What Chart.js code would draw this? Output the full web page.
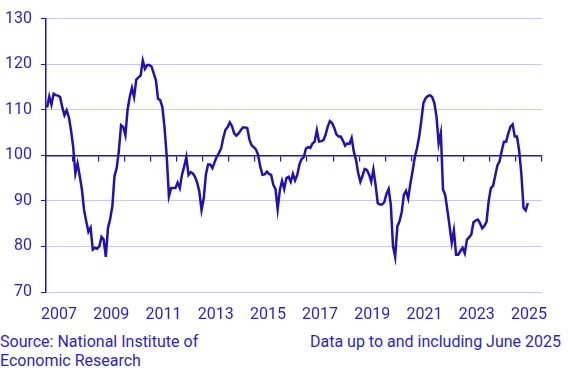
<!DOCTYPE html>
<html>
<head>
<meta charset="utf-8">
<script src="https://cdn.jsdelivr.net/npm/chart.js@4/dist/chart.umd.min.js"></script>
<style>
  html, body { margin: 0; padding: 0; background: #fff; }
  .wrap { position: relative; width: 568px; height: 374px; font-family: Roboto, sans-serif; color: #2d1fc6; }
  canvas { position: absolute; left: 0; top: 0; }
  .source { position: absolute; left: 0; top: 332px; font-size: 16px; line-height: 19px; }
  .note { position: absolute; right: 7px; top: 332px; font-size: 16px; line-height: 19px; }
</style>
</head>
<body>
<div class="wrap">
  <canvas id="chart" width="568" height="330"></canvas>
  <div class="source">Source: National Institute of<br>Economic Research</div>
  <div class="note">Data up to and including June 2025</div>
</div>
<script>
// monthly values, January onwards
const startYear = 2007;
const endYear = 2026;
const v2007 = [110.5, 112.9, 111.1, 113.5, 113.2, 113.1, 112.8, 110.5, 108.8, 109.9, 108.4, 105.5];
const v2008 = [101.8, 96.0, 98.2, 95.5, 92.5, 88.0, 85.5, 83.2, 84.1, 79.3, 79.7, 79.5];
const v2009 = [80.0, 82.1, 81.5, 77.7, 84.1, 86.0, 88.8, 95.5, 97.2, 101.0, 106.6, 106.2];
const v2010 = [104.4, 110.0, 112.8, 114.8, 112.8, 116.6, 117.1, 117.5, 120.8, 119.0, 119.8, 119.8];
const v2011 = [119.5, 118.0, 116.5, 112.4, 112.1, 110.6, 106.0, 99.7, 91.0, 92.8, 92.8, 92.8];
const v2012 = [94.0, 92.8, 95.7, 97.5, 99.6, 95.7, 96.3, 96.0, 95.3, 94.0, 92.0, 88.0];
const v2013 = [90.5, 95.8, 98.0, 98.0, 97.2, 98.5, 99.7, 100.5, 101.5, 103.8, 105.6, 106.2];
const v2014 = [107.2, 106.4, 104.8, 104.3, 104.8, 105.5, 106.1, 106.1, 106.0, 103.5, 102.2, 101.8];
const v2015 = [101.3, 100.1, 97.5, 95.7, 95.8, 96.4, 95.9, 95.7, 93.5, 92.6, 88.2, 92.4];
const v2016 = [94.4, 92.6, 95.0, 95.3, 94.2, 95.9, 94.5, 95.7, 98.0, 99.2, 99.6, 101.5];
const v2017 = [101.8, 101.6, 102.6, 103.0, 105.5, 103.0, 103.1, 103.3, 104.5, 106.3, 107.5, 107.1];
const v2018 = [106.0, 104.6, 104.1, 104.1, 103.2, 102.1, 102.6, 102.5, 103.8, 100.8, 99.0, 96.1];
const v2019 = [94.2, 95.5, 97.0, 96.8, 95.8, 94.2, 96.9, 93.5, 89.5, 89.2, 89.2, 89.7];
const v2020 = [91.5, 92.6, 89.2, 80.1, 77.7, 84.4, 85.5, 87.5, 91.3, 92.2, 90.5, 93.8];
const v2021 = [96.5, 99.5, 101.5, 104.0, 107.5, 111.5, 112.5, 113.0, 113.2, 112.8, 111.5, 108.5];
const v2022 = [102.6, 104.9, 92.5, 91.3, 88.0, 84.5, 80.8, 83.5, 78.2, 78.2, 79.0, 79.7];
const v2023 = [78.5, 81.5, 82.0, 82.6, 85.3, 85.7, 85.9, 85.1, 84.0, 84.5, 85.4, 90.0];
const v2024 = [92.8, 93.3, 95.5, 97.8, 98.7, 101.0, 103.0, 103.0, 104.8, 106.3, 106.8, 104.1];
const v2025 = [104.1, 101.0, 96.0, 88.5, 87.9, 89.5];

const series = [].concat(v2007, v2008, v2009, v2010, v2011, v2012, v2013, v2014, v2015,
  v2016, v2017, v2018, v2019, v2020, v2021, v2022, v2023, v2024, v2025);

const yearLabels = ['2007', '2009', '2011', '2013', '2015', '2017', '2019', '2021', '2023', '2025'];
const yTicks = [70, 80, 90, 100, 110, 120, 130];

const lineColor = '#2210b4';
const textColor = '#2d1fc6';
const axisColor = '#2414b4';
const gridColor = '#cbc7ef';
const font = { family: 'Roboto', size: 16 };

// month points sit in the middle of each month
const points = series.map((v, i) => ({ x: startYear + (i + 0.5) / 12, y: v }));

const yearTicks = [];
for (let y = startYear; y <= endYear; y++) yearTicks.push({ value: y });

new Chart(document.getElementById('chart'), {
  type: 'line',
  data: {
    datasets: [{
      data: points,
      borderColor: lineColor,
      borderWidth: 2.5,
      pointRadius: 0,
      tension: 0,
      fill: false
    }]
  },
  options: {
    responsive: false,
    animation: false,
    layout: { padding: { top: 17, right: 26, bottom: 0, left: 0 } },
    plugins: { legend: { display: false }, tooltip: { enabled: false } },
    scales: {
      x: {
        type: 'linear',
        min: startYear,
        max: endYear,
        position: 'bottom',
        border: { display: false },
        grid: { display: false },
        afterBuildTicks: s => { s.ticks = yearLabels.map(l => ({ value: Number(l) + 0.5 })); },
        ticks: {
          color: textColor,
          font: font,
          padding: 5,
          maxRotation: 0,
          autoSkip: false,
          callback: v => String(Math.floor(v))
        },
        afterFit: s => { s.height = 38; }
      },
      x100: {
        type: 'linear',
        axis: 'x',
        min: startYear,
        max: endYear,
        position: { y: 100 },
        border: { color: axisColor, width: 1.5 },
        grid: { drawOnChartArea: false, drawTicks: true, tickLength: 5, tickColor: axisColor, lineWidth: 1.2 },
        afterBuildTicks: s => { s.ticks = yearTicks.slice(); },
        ticks: { display: false }
      },
      y: {
        min: 70,
        max: 130,
        afterBuildTicks: s => { s.ticks = yTicks.map(v => ({ value: v })); },
        border: { color: axisColor, width: 1.5 },
        grid: { color: gridColor, tickColor: axisColor, tickLength: 5, lineWidth: 1 },
        ticks: { color: textColor, font: font, padding: 9 },
        afterFit: s => { s.width = 46; }
      }
    }
  }
});
</script>
</body>
</html>
